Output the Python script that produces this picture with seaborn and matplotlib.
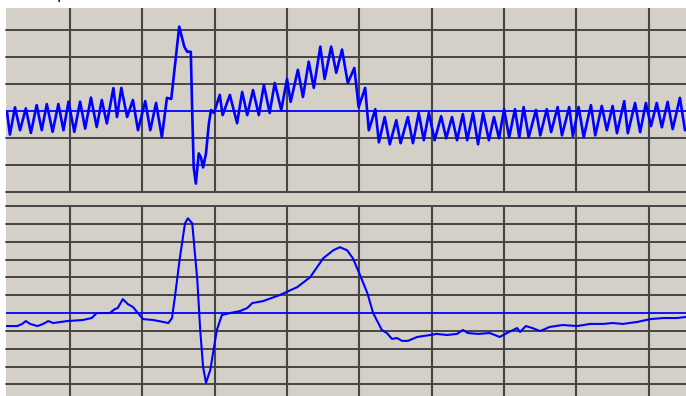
import numpy as np
import pandas as pd
import matplotlib
matplotlib.use("Agg")
import matplotlib.pyplot as plt
import seaborn as sns
from matplotlib.patches import Rectangle

# upper trace: time (ms) and amplitude (grid units)
t_top = [13, 17, 24, 31, 39, 46, 54, 61, 68, 76, 84, 91, 98, 106, 114, 121, 129, 137,
         144, 151, 160, 165, 171, 179, 187, 194, 204, 211, 219, 227, 234, 240, 251, 258,
         262, 267, 269, 271, 274, 278, 281, 284, 288, 292, 295, 299, 307, 311, 321, 331,
         338, 345, 353, 361, 368, 376, 383, 392, 400, 405, 415, 422, 430, 437, 446, 452,
         461, 468, 476, 484, 493, 499, 508, 513, 522, 527, 535, 542, 551, 557, 567, 574,
         582, 589, 596, 604, 613, 620, 628, 635, 643, 649, 657, 664, 671, 679, 686, 693,
         700, 707, 715, 721, 727, 734, 744, 750, 759, 765, 774, 780, 790, 795, 803, 810,
         820, 826, 835, 842, 850, 856, 866, 871, 881, 888, 896, 903, 911, 918, 926, 933,
         943, 950]
a_top = [-0.04, -0.87, 0.14, -0.71, 0.10, -0.81, 0.22, -0.71, 0.26, -0.77, 0.26, -0.71,
         0.35, -0.77, 0.35, -0.65, 0.50, -0.59, 0.41, -0.46, 0.85, -0.22, 0.86, -0.22,
         0.41, -0.71, 0.37, -0.71, 0.30, -0.97, 0.49, 0.45, 3.13, 2.39, 2.20, 2.20, -0.07,
         -2.09, -2.69, -1.57, -1.72, -2.09, -1.57, -0.45, 0.04, -0.07, 0.60, -0.15, 0.60,
         -0.45, 0.71, -0.15, 0.78, -0.15, 0.97, -0.07, 1.04, 0.04, 1.19, 0.34, 1.53, 0.52,
         1.83, 0.86, 2.39, 1.19, 2.39, 1.42, 2.28, 1.04, 1.60, 0.15, 0.86, -0.71, 0.07,
         -1.16, -0.22, -1.23, -0.34, -1.19, -0.22, -1.19, -0.07, -1.08, -0.07, -1.08,
         -0.19, -1.01, -0.22, -1.08, -0.11, -1.08, -0.07, -1.23, -0.07, -1.08, -0.22,
         -1.01, 0.07, -0.97, 0.07, -0.97, 0.15, -0.97, 0.04, -0.90, 0.07, -0.78, 0.15,
         -0.90, 0.15, -0.93, 0.15, -0.97, 0.22, -0.90, 0.19, -0.71, 0.19, -0.82, 0.37,
         -0.82, 0.30, -0.78, 0.30, -0.56, 0.30, -0.60, 0.34, -0.67, 0.49, -0.71]

# lower trace
t_bot = [12, 27, 34, 39, 45, 55, 63, 70, 77, 96, 118, 130, 137, 155, 162, 166, 173, 180,
         187, 201, 215, 229, 236, 241, 245, 252, 259, 263, 269, 276, 280, 284, 288, 294,
         303, 310, 321, 335, 345, 352, 367, 390, 414, 432, 450, 464, 473, 483, 491, 501,
         511, 519, 531, 538, 545, 552, 559, 567, 580, 598, 607, 621, 635, 643, 650, 664,
         680, 694, 704, 718, 722, 730, 739, 750, 763, 781, 801, 819, 837, 850, 864, 884,
         902, 920, 939, 951]
a_bot = [-0.73, -0.73, -0.61, -0.45, -0.61, -0.73, -0.61, -0.45, -0.56, -0.45, -0.39,
         -0.28, 0.0, 0.0, 0.22, 0.28, 0.78, 0.50, 0.34, -0.34, -0.39, -0.50, -0.56, -0.28,
         0.89, 3.13, 5.03, 5.31, 5.03, 1.84, -0.95, -3.02, -3.91, -3.18, -0.95, -0.11, 0.0,
         0.11, 0.28, 0.56, 0.67, 1.01, 1.45, 2.01, 3.07, 3.52, 3.69, 3.52, 3.07, 2.12, 1.12,
         0.0, -0.95, -1.12, -1.45, -1.40, -1.56, -1.56, -1.34, -1.23, -1.17, -1.23, -1.17,
         -0.95, -1.12, -1.17, -1.12, -1.34, -1.12, -0.84, -1.06, -0.73, -0.84, -1.01,
         -0.78, -0.67, -0.73, -0.61, -0.61, -0.56, -0.61, -0.50, -0.34, -0.28, -0.28, -0.22]

x_grid = [100, 200, 300, 400, 500, 600, 700, 800, 900]
y_grid_top = [-3, -2, -1, 1, 2, 3]
y_grid_bot = [-4, -3, -2, -1, 1, 2, 3, 4, 5, 6]

FUNDO = "#d4d0c8"
GRADE = "#454545"
AZUL = "#0000ff"

sns.set_style("white", {"axes.facecolor": FUNDO})
plt.rcParams["font.family"] = ["DejaVu Sans"]

W, H = 686, 396
fig = plt.figure(figsize=(W / 100, H / 100), dpi=100, facecolor="white")
fundo = Rectangle((6 / W, 0), 1, (H - 7.5) / H, transform=fig.transFigure,
                  facecolor=FUNDO, edgecolor="none", zorder=-10)
fig.add_artist(fundo)

ax_top = fig.add_axes([6 / W, (H - 192) / H, 680 / W, (192 - 7.5) / H])
ax_bot = fig.add_axes([6 / W, 0, 680 / W, (H - 206) / H])

df_top = pd.DataFrame({"t": t_top, "a": a_top})
df_bot = pd.DataFrame({"t": t_bot, "a": a_bot})


def desenhar_painel(ax, df, y_grid, ylim, lw):
    ax.set_facecolor(FUNDO)
    for x in x_grid:
        ax.axvline(x, color=GRADE, lw=1.5, zorder=1)
    for y in y_grid:
        ax.axhline(y, color=GRADE, lw=1.4, zorder=1, clip_on=False)
    ax.axhline(0, color=AZUL, lw=1.3, zorder=2)
    sns.lineplot(data=df, x="t", y="a", ax=ax, color=AZUL, lw=lw,
                 estimator=None, sort=False, zorder=3)
    ax.set_xlim(11.6, 951.4)
    ax.set_ylim(*ylim)
    ax.set_xticks([])
    ax.set_yticks([])
    ax.set_xlabel("")
    ax.set_ylabel("")
    for s in ax.spines.values():
        s.set_visible(False)


desenhar_painel(ax_top, df_top, y_grid_top, (-3, 3.84), 1.9)
desenhar_painel(ax_bot, df_bot, y_grid_bot, (-4.65, 6), 1.5)

fig.text(57 / W, 1 + 1.0 / H, "p", fontsize=11, color="black", va="baseline", ha="left")

fig.savefig("out.png", dpi=100, facecolor="white")
